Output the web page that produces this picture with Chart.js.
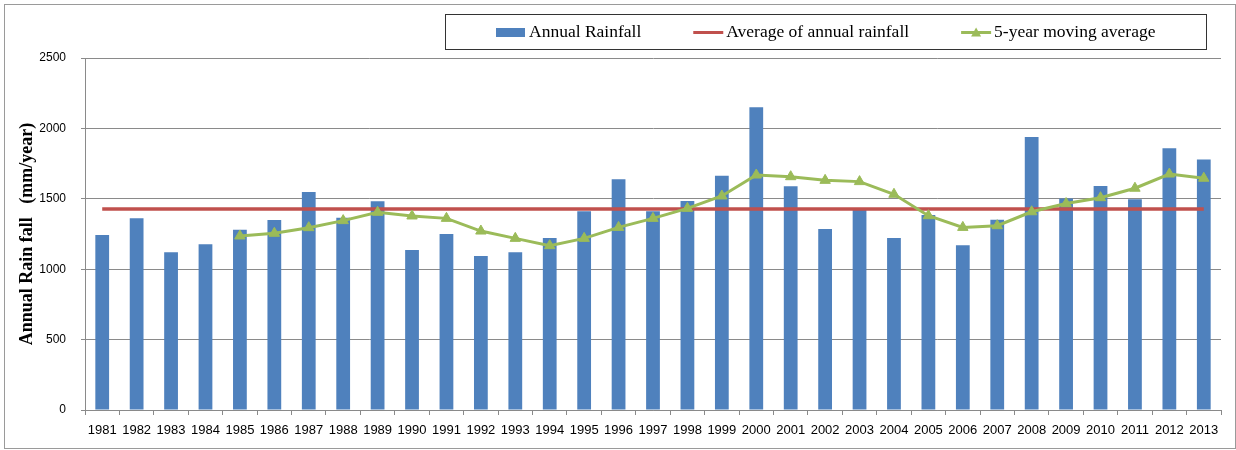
<!DOCTYPE html>
<html>
<head>
<meta charset="utf-8">
<script src="https://cdn.jsdelivr.net/npm/chart.js@4.4.1/dist/chart.umd.min.js"></script>
<style>
  html, body { margin: 0; padding: 0; background: #fff; }
  #wrap { width: 1236px; height: 450px; position: relative; }
</style>
</head>
<body>
<div id="wrap"><canvas id="rainChart"></canvas></div>
<script>
// data
var years = ["1981","1982","1983","1984","1985","1986","1987","1988","1989","1990",
  "1991","1992","1993","1994","1995","1996","1997","1998","1999","2000",
  "2001","2002","2003","2004","2005","2006","2007","2008","2009","2010",
  "2011","2012","2013"];

var annualRainfall = [1243, 1361, 1120, 1177, 1281, 1349, 1548, 1366, 1482, 1136,
  1250, 1094, 1120, 1222, 1411, 1638, 1411, 1484, 1664, 2150,
  1589, 1285, 1432, 1222, 1385, 1170, 1352, 1939, 1503, 1591,
  1496, 1859, 1780];

var averageRainfall = 1428;

var movingAverage = [null, null, null, null, 1236, 1255, 1295, 1345, 1404, 1378,
  1361, 1271, 1219, 1167, 1219, 1297, 1361, 1432, 1520, 1669,
  1657, 1631, 1622, 1532, 1380, 1297, 1309, 1408, 1466, 1508,
  1575, 1676, 1646];

var yMin = 0, yMax = 2500, yStep = 500;

var gridGray = "#8a8a8a";

// white page with the thin frame round it
var frame = {
  id: "frame",
  beforeDraw: function(chart) {
    var ctx = chart.ctx;
    ctx.save();
    ctx.fillStyle = "#fff";
    ctx.fillRect(0, 0, chart.width, chart.height);
    ctx.strokeStyle = "#9a9a9a";
    ctx.lineWidth = 1;
    ctx.strokeRect(4.5, 4.5, chart.width - 5, chart.height - 6);
    ctx.restore();
  }
};

// excel style legend in a box, top right
var boxLegend = {
  id: "boxLegend",
  afterDraw: function(chart) {
    var ctx = chart.ctx;
    var area = chart.chartArea;
    var sets = chart.data.datasets;
    ctx.save();
    ctx.font = '17.5px "Liberation Serif"';
    var swatchW = 30, textGap = 3, itemGap = 52, sidePad = 51;
    var widths = sets.map(function(ds) { return ctx.measureText(ds.label).width; });
    var total = 2 * sidePad + itemGap * (sets.length - 1);
    widths.forEach(function(w) { total += swatchW + textGap + w; });
    var right = area.right - 15;
    var left = Math.round(right - total);
    var top = 14, h = 35;
    ctx.strokeStyle = "#333";
    ctx.lineWidth = 1;
    ctx.strokeRect(left + 0.5, top + 0.5, Math.round(total), h);

    var x = left + sidePad;
    var cy = top + h / 2 + 1;
    ctx.textBaseline = "middle";
    ctx.textAlign = "left";
    sets.forEach(function(ds, i) {
      if (ds.type === "bar") {
        ctx.fillStyle = ds.backgroundColor;
        ctx.fillRect(x, cy - 4.5, swatchW - 1, 9);
      } else {
        ctx.strokeStyle = ds.borderColor;
        ctx.lineWidth = 3;
        ctx.beginPath();
        ctx.moveTo(x, cy);
        ctx.lineTo(x + swatchW, cy);
        ctx.stroke();
        if (ds.pointStyle === "triangle") {
          ctx.fillStyle = ds.borderColor;
          ctx.beginPath();
          ctx.moveTo(x + swatchW / 2, cy - 5);
          ctx.lineTo(x + swatchW / 2 + 5, cy + 4);
          ctx.lineTo(x + swatchW / 2 - 5, cy + 4);
          ctx.closePath();
          ctx.fill();
        }
      }
      ctx.fillStyle = "#000";
      ctx.fillText(ds.label, x + swatchW + textGap, cy);
      x += swatchW + textGap + widths[i] + itemGap;
    });
    ctx.restore();
  }
};

var ctx = document.getElementById("rainChart");

var chart = new Chart(ctx, {
  type: "bar",
  data: {
    labels: years,
    datasets: [
      {
        type: "bar",
        label: "Annual Rainfall",
        data: annualRainfall,
        backgroundColor: "#4F81BD",
        barPercentage: 0.4,
        categoryPercentage: 1.0,
        order: 3
      },
      {
        type: "line",
        label: "Average of annual rainfall",
        data: years.map(function() { return averageRainfall; }),
        borderColor: "#C0504D",
        backgroundColor: "#C0504D",
        borderWidth: 3.5,
        pointRadius: 0,
        fill: false,
        order: 2
      },
      {
        type: "line",
        label: "5-year moving average",
        data: movingAverage,
        borderColor: "#9BBB59",
        backgroundColor: "#9BBB59",
        borderWidth: 3,
        pointStyle: "triangle",
        pointRadius: 6,
        pointBorderWidth: 1,
        fill: false,
        lineTension: 0,
        order: 1
      }
    ]
  },
  options: {
    responsive: true,
    maintainAspectRatio: false,
    animation: false,
    layout: { padding: { top: 58, right: 15, bottom: 0, left: 0 } },
    plugins: {
      legend: { display: false },
      tooltip: { enabled: false }
    },
    scales: {
      x: {
        grid: { offset: true, drawOnChartArea: false, drawTicks: true, tickLength: 5, color: gridGray },
        border: { color: gridGray },
        ticks: {
          font: { family: '"Liberation Sans"', size: 13 },
          color: "#000",
          padding: 8,
          maxRotation: 0,
          autoSkip: false
        },
        afterFit: function(scale) { scale.height = 40; }
      },
      y: {
        min: yMin,
        max: yMax,
        ticks: {
          stepSize: yStep,
          font: { family: '"Liberation Sans"', size: 12 },
          color: "#000",
          padding: 15,
          callback: function(v) { return String(v); }
        },
        grid: { color: gridGray, tickLength: 4 },
        border: { color: gridGray },
        title: {
          display: true,
          text: "Annual Rain fall   (mm/year)",
          font: { family: '"Liberation Serif"', size: 18, weight: "bold" },
          color: "#000",
          padding: { top: 17, bottom: 0 }
        },
        afterFit: function(scale) { scale.width = 85; }
      }
    }
  },
  plugins: [frame, boxLegend]
});
</script>
</body>
</html>
